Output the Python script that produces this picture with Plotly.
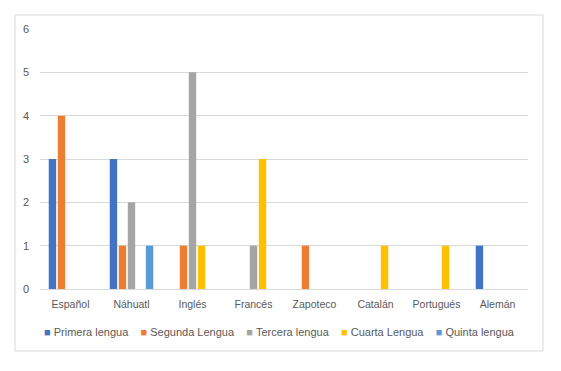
import plotly.graph_objects as go

categories = ["Español", "Náhuatl", "Inglés", "Francés", "Zapoteco", "Catalán", "Portugués", "Alemán"]
series_names = ["Primera lengua", "Segunda Lengua", "Tercera lengua", "Cuarta Lengua", "Quinta lengua"]
primera = [3, 3, 0, 0, 0, 0, 0, 1]
segunda = [4, 1, 1, 0, 1, 0, 0, 0]
tercera = [0, 2, 5, 1, 0, 0, 0, 0]
cuarta = [0, 0, 1, 3, 0, 1, 1, 0]
quinta = [0, 1, 0, 0, 0, 0, 0, 0]
colors = ["#4472C4", "#ED7D31", "#A5A5A5", "#FFC000", "#5B9BD5"]

fig = go.Figure()
for name, vals, col in zip(series_names, [primera, segunda, tercera, cuarta, quinta], colors):
    fig.add_trace(go.Bar(x=categories, y=vals, name=name, showlegend=False,
                         marker=dict(color=col, line=dict(width=0))))

W, H = 561, 371
L, R, T, B = 40, 33, 29, 82
pw, ph = W - L - R, H - T - B

gap = "\u00a0" * 4
legend_text = gap.join(
    f"<span style='color:{c};font-size:11px'>■</span>\u00a0{n}" for n, c in zip(series_names, colors)
)

fig.update_layout(
    width=W, height=H,
    margin=dict(l=L, r=R, t=T, b=B, autoexpand=False),
    paper_bgcolor="white", plot_bgcolor="white",
    barmode="group", bargap=0.26, bargroupgap=0.18,
    font=dict(family="Liberation Sans, Arial, sans-serif", size=11, color="#595959"),
    xaxis=dict(showgrid=False, showline=True, linecolor="#D9D9D9", linewidth=1,
               ticks="", ticklabelstandoff=5, tickfont=dict(size=10.5, color="#595959")),
    yaxis=dict(range=[0, 6], dtick=1, showgrid=True, gridcolor="#D9D9D9", gridwidth=1,
               zeroline=False, showline=False, ticks="", ticklabelstandoff=10,
               tickfont=dict(size=11, color="#595959")),
    annotations=[dict(text=legend_text, xref="paper", yref="paper", x=0.49, y=(H - B - 332) / ph,
                      xanchor="center", yanchor="middle", showarrow=False,
                      font=dict(size=11, color="#595959"))],
    shapes=[dict(type="rect", xref="paper", yref="paper",
                 x0=(15 - L) / pw, x1=(543 - L) / pw,
                 y0=(H - B - 351) / ph, y1=(H - B - 15) / ph,
                 line=dict(color="#D9D9D9", width=1), fillcolor="rgba(0,0,0,0)", layer="below")],
)
fig.write_html("out.html", config={"displayModeBar": False},
               post_script="document.body.style.margin='0px';")
